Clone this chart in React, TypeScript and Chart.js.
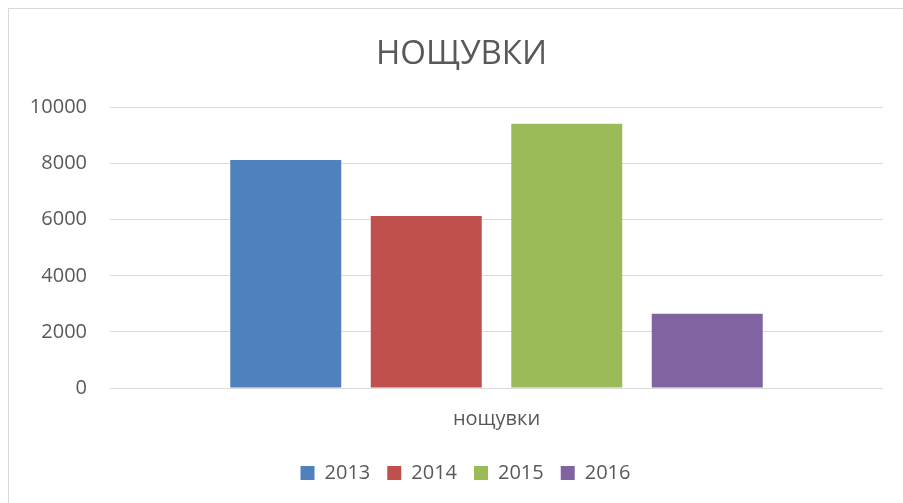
import React, { useEffect, useRef } from "react";
import { Chart, registerables } from "chart.js";

Chart.register(...registerables);

const chartTitle = "НОЩУВКИ";
const categories = ["нощувки"];
const seriesNames = ["2013", "2014", "2015", "2016"];
const seriesValues = [8130, 6130, 9420, 2650];
const seriesColors = ["#4f81bd", "#c0504d", "#9bbb59", "#8064a2"];
const yTicks = [0, 2000, 4000, 6000, 8000, 10000];

const FONT = "'Open Sans', sans-serif";
const TEXT = "#595959";

const shiftBoxes = {
  id: "shiftBoxes",
  afterLayout(chart: any) {
    const legend = chart.legend;
    if (legend) {
      legend.left += 24;
      legend.right += 24;
    }
    const title = chart.titleBlock;
    if (title) {
      title.left += 20;
      title.right += 20;
    }
  },
};

export default function App() {
  const ref = useRef<HTMLCanvasElement | null>(null);

  useEffect(() => {
    if (!ref.current) return;
    const chart = new Chart(ref.current, {
      type: "bar",
      data: {
        labels: categories,
        datasets: seriesNames.map((name, i) => ({
          label: name,
          data: [seriesValues[i]],
          backgroundColor: seriesColors[i],
          borderWidth: 0,
          categoryPercentage: 0.727,
          barPercentage: 0.79,
        })),
      },
      options: {
        animation: false,
        responsive: false,
        maintainAspectRatio: false,
        layout: { padding: { left: 0, right: 20, top: 0, bottom: 10 } },
        plugins: {
          title: {
            display: true,
            text: chartTitle,
            color: TEXT,
            font: { family: FONT, size: 33, weight: "normal" },
            padding: { top: 35, bottom: 33 },
          },
          legend: {
            display: true,
            position: "bottom",
            labels: {
              color: TEXT,
              font: { family: FONT, size: 20 },
              boxWidth: 14,
              boxHeight: 14,
              padding: 17,
            },
          },
          tooltip: { enabled: false },
        },
        scales: {
          x: {
            grid: { display: false },
            border: { display: false },
            ticks: {
              color: TEXT,
              font: { family: FONT, size: 20 },
              padding: 11,
            },
            afterFit: (s: any) => {
              s.height = 58;
            },
          },
          y: {
            min: 0,
            max: 10000,
            afterBuildTicks: (s: any) => {
              s.ticks = yTicks.map((v) => ({ value: v }));
            },
            grid: { color: "#d9d9d9", lineWidth: 1, drawTicks: false },
            border: { display: false },
            ticks: {
              color: TEXT,
              font: { family: FONT, size: 20 },
              padding: 23,
              callback: (v: any) => String(v),
            },
            afterFit: (s: any) => {
              s.width = 110;
            },
          },
        },
      },
      plugins: [shiftBoxes],
    });
    return () => chart.destroy();
  }, []);

  return (
    <div style={{ position: "fixed", left: 0, top: 0, width: 903, height: 503, background: "#fff" }}>
      <div
        style={{
          position: "absolute",
          left: 8,
          top: 8,
          width: 920,
          height: 520,
          border: "1px solid #d9d9d9",
          boxSizing: "border-box",
        }}
      />
      <canvas
        ref={ref}
        width={903}
        height={503}
        style={{ position: "absolute", left: 0, top: 0, width: 903, height: 503 }}
      />
    </div>
  );
}
